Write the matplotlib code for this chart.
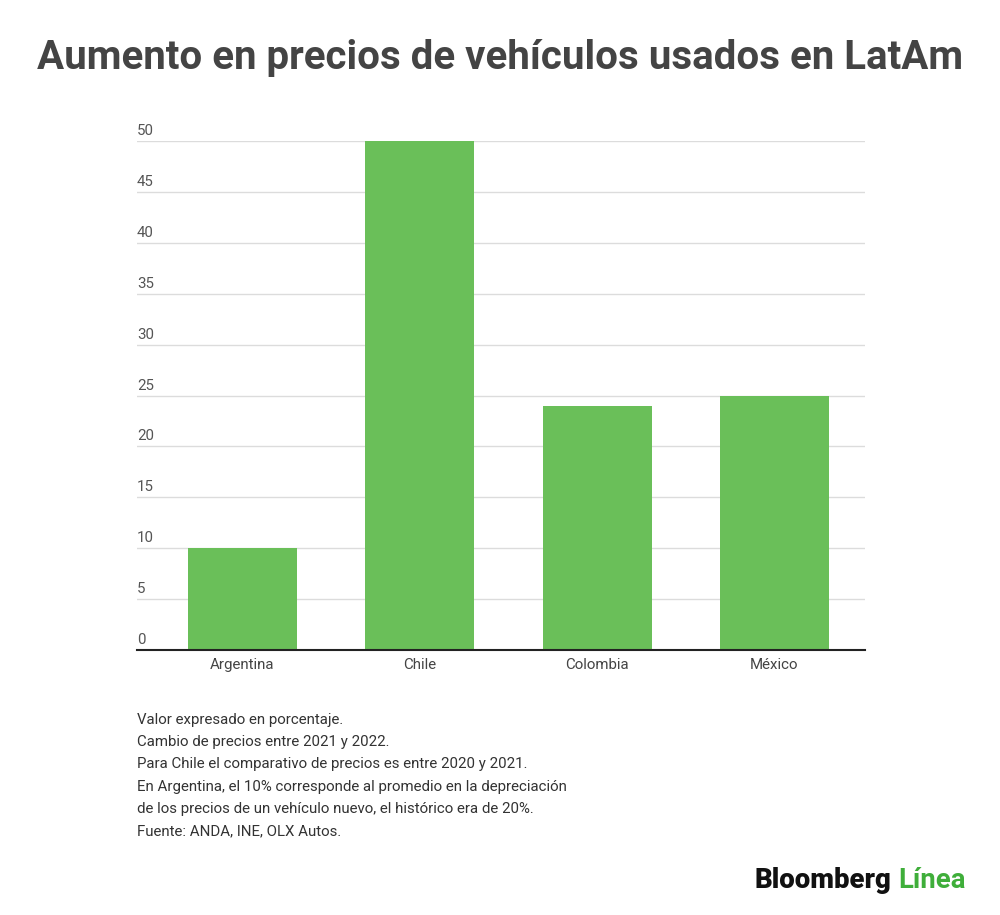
import matplotlib
matplotlib.use("Agg")
import matplotlib.pyplot as plt
import matplotlib.transforms as mtransforms

categories = ["Argentina", "Chile", "Colombia", "México"]
values = [10, 50, 24, 25]
yticks = [0, 5, 10, 15, 20, 25, 30, 35, 40, 45, 50]
title = "Aumento en precios de vehículos usados en LatAm"
notes = [
    "Valor expresado en porcentaje.",
    "Cambio de precios entre 2021 y 2022.",
    "Para Chile el comparativo de precios es entre 2020 y 2021.",
    "En Argentina, el 10% corresponde al promedio en la depreciación",
    "de los precios de un vehículo nuevo, el histórico era de 20%.",
    "Fuente: ANDA, INE, OLX Autos.",
]

plt.rcParams['font.family'] = ['Roboto', 'DejaVu Sans']

W, H = 1000, 915
fig = plt.figure(figsize=(W / 100, H / 100), dpi=100)
fig.patch.set_facecolor("white")

# axes: x from 137 to 865 px, y from 650 (0) to 141 (50)
left, right = 137, 865
bottom_px, top_px = 650, 141
ax = fig.add_axes([left / W, 1 - bottom_px / H, (right - left) / W, (bottom_px - top_px) / H])

x = list(range(len(categories)))
ax.bar(x, values, width=0.615, color="#6abf59", zorder=3)
ax.set_xlim(-0.595, 3.511)
ax.set_ylim(0, 50)

ax.set_yticks(yticks)
ax.set_yticklabels([str(t) for t in yticks])
ax.yaxis.grid(True, color="#dcdcdc", linewidth=1, zorder=0)
ax.tick_params(axis="y", length=0, pad=0, labelsize=10.8, labelcolor="#555555")
offset = mtransforms.ScaledTranslation(0, 3 / 100, fig.dpi_scale_trans)
for lab in ax.get_yticklabels():
    lab.set_horizontalalignment("left")
    lab.set_verticalalignment("bottom")
    lab.set_transform(lab.get_transform() + offset)

ax.set_xticks(x)
ax.set_xticklabels(categories)
ax.tick_params(axis="x", length=0, pad=6, labelsize=10.8, labelcolor="#444444")

for s in ["top", "right", "left"]:
    ax.spines[s].set_visible(False)
ax.spines["bottom"].set_color("#222222")
ax.spines["bottom"].set_linewidth(1.5)
ax.spines["bottom"].set_zorder(4)

fig.text(0.5, 1 - 58 / H, title, ha="center", va="center", fontsize=29,
         fontweight="bold", color="#444444")

y0 = 720
for i, line in enumerate(notes):
    fig.text(137 / W, 1 - (y0 + i * 22.2) / H, line, ha="left", va="center",
             fontsize=10.8, color="#333333")

t1 = fig.text(755 / W, 1 - 881 / H, "Bloomberg", ha="left", va="center",
              fontsize=19.8, fontweight="black", color="#111111")
fig.canvas.draw()
bb = t1.get_window_extent()
fig.text((bb.x1 + 6) / W, 1 - 881 / H, "Línea", ha="left", va="center",
         fontsize=19.8, fontweight="bold", color="#3fae3a")

fig.savefig("out.png", dpi=100, facecolor="white")
